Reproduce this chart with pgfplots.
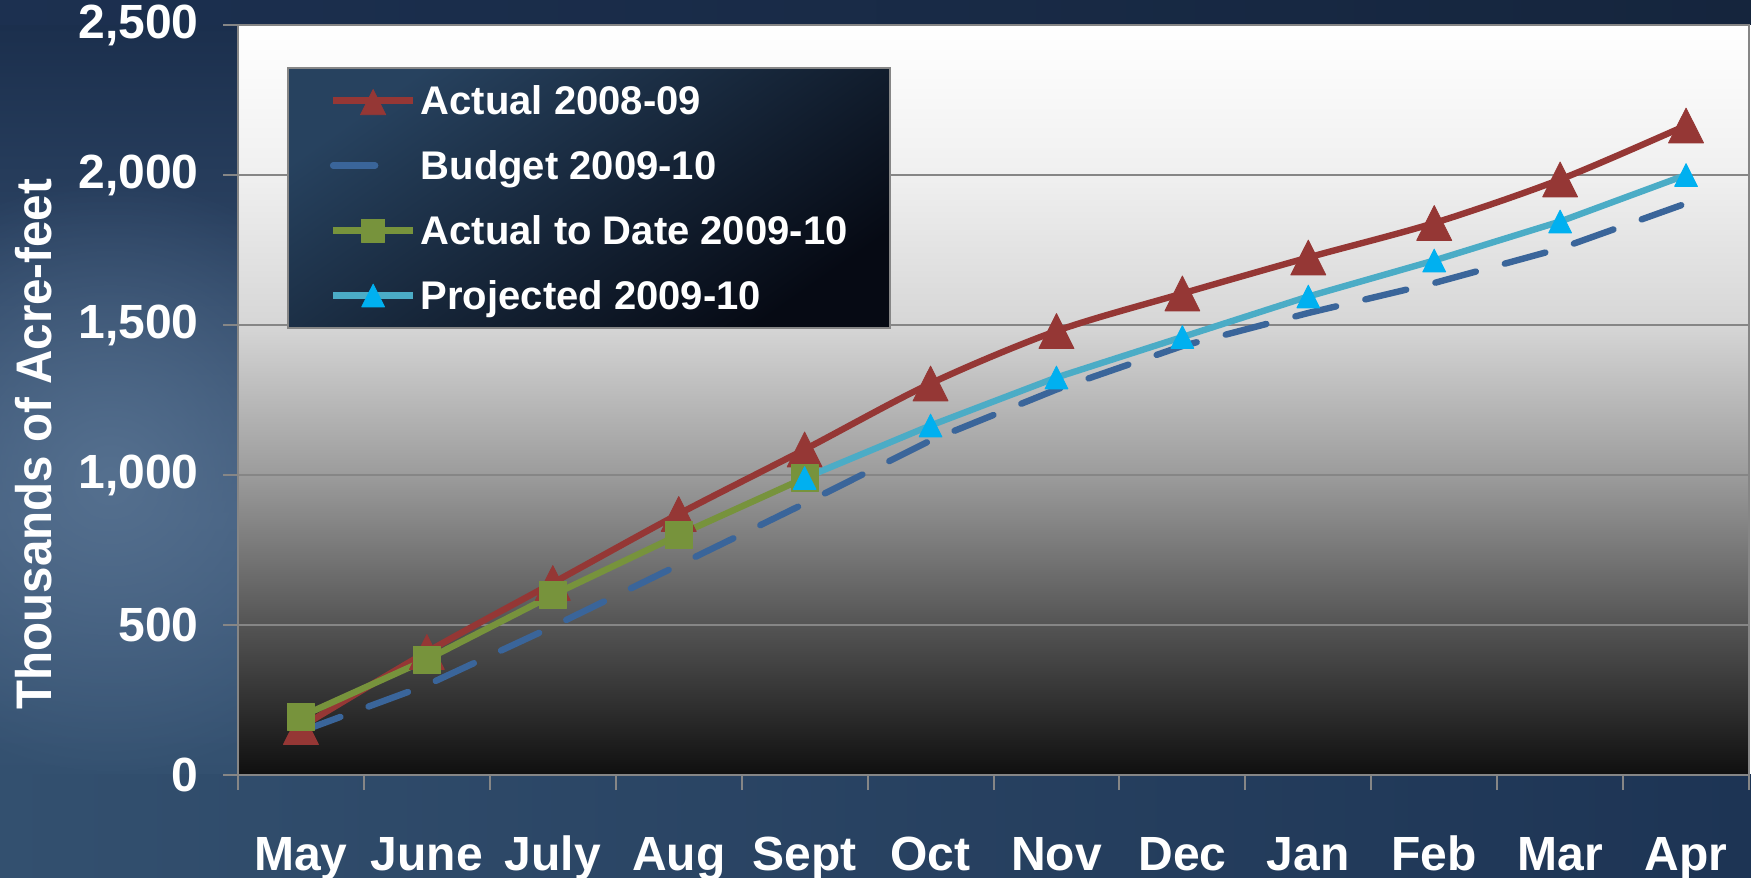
\documentclass[border=0pt]{standalone}
\usepackage{pgfplots}
\pgfplotsset{compat=1.18}
\usepackage{fontspec}
\setmainfont{Liberation Sans}
\newfontfamily\ylfont{Liberation Sans}[FakeStretch=0.95]
\usetikzlibrary{fadings}
\tikzfading[name=myfade, inner color=transparent!0, outer color=transparent!100]

\definecolor{bgtop}{HTML}{1B2F4D}
\definecolor{bgmid}{HTML}{3F5A7B}
\definecolor{bgbot}{HTML}{33506F}
\definecolor{bglight}{HTML}{55708F}
\definecolor{bgbL}{HTML}{33506F}
\definecolor{bgbR}{HTML}{1D3454}
\definecolor{bgtL}{HTML}{1C3050}
\definecolor{bgtR}{HTML}{15253D}
\definecolor{cred}{HTML}{953735}
\definecolor{cblue}{HTML}{3A659A}
\definecolor{cgreen}{HTML}{77933C}
\definecolor{ccyanl}{HTML}{4BACC6}
\definecolor{ccyanm}{HTML}{00B0F0}
\definecolor{legA}{HTML}{27425F}
\definecolor{legB}{HTML}{060A14}
\definecolor{gridc}{HTML}{868686}
\colorlet{pb0}{black!94}
\colorlet{pb1}{black!67}
\colorlet{pb2}{black!39}
\colorlet{pb3}{black!16}
\colorlet{pb4}{black!6}
\pgfdeclareverticalshading{plotbg}{100bp}{color(0bp)=(pb0); color(25bp)=(pb0); color(35bp)=(pb1); color(45bp)=(pb2); color(55bp)=(pb3); color(65bp)=(pb4); color(75bp)=(white); color(100bp)=(white)}

\pgfplotsset{
  legmark/.style={legend image code/.code={
    \path[draw=none, fill=none] (0pt,-16.25pt) rectangle (40pt,16.25pt);
    \draw[mark repeat=2, mark phase=2, ##1, every mark/.append style={scale=#1}] plot coordinates {(0pt,0pt) (20pt,0pt) (40pt,0pt)};
  }},
  legdash/.style={legend image code/.code={
    \path[draw=none, fill=none] (0pt,-16.25pt) rectangle (40pt,16.25pt);
    \draw[##1] (0pt,0pt) -- (23pt,0pt);
  }},
}

\begin{document}
\begin{tikzpicture}
\useasboundingbox (0,0) rectangle (875.5pt,439pt);
% background
\shade[top color=bgtop, bottom color=bgmid] (0,180pt) rectangle (119pt,426.5pt);
\shade[top color=bgmid, bottom color=bgbot] (0,51.5pt) rectangle (119pt,180pt);
\begin{scope}
\clip (0,51.5pt) rectangle (119pt,426.5pt);
\fill[bglight, path fading=myfade] (55pt,200pt) circle (150pt);
\end{scope}
\shade[left color=bgbL, right color=bgbR] (0,0) rectangle (875.5pt,51.5pt);
\shade[left color=bgtL, right color=bgtR] (0,426.5pt) rectangle (875.5pt,439pt);

\begin{axis}[
  at={(119pt,51.5pt)}, anchor=south west,
  scale only axis, width=755.5pt, height=375pt,
  xmin=-0.5, xmax=11.5, ymin=0, ymax=2500,
  clip=false,
  axis background/.style={shade, shading=plotbg},
  xtick={0,...,11},
  xticklabels={May,June,July,Aug,Sept,Oct,Nov,Dec,Jan,Feb,Mar,Apr},
  minor xtick={-0.5,0.5,...,11.5},
  ytick={0,500,1000,1500,2000,2500},
  tick pos=left, tick align=outside,
  major tick length=7.5pt, minor tick length=7.5pt,
  tick style={draw=gridc, line width=1pt},
  major x tick style={draw=none},
  axis line style={draw=gridc, line width=1pt},
  ymajorgrids, major grid style={draw=gridc, line width=1pt},
  /pgf/number format/1000 sep={,},
  /pgf/number format/assume math mode=true,
  yticklabel style={font=\bfseries\fontsize{24pt}{28pt}\selectfont, text=white, inner sep=0pt, xshift=-12pt},
  xticklabel style={font=\bfseries\fontsize{24pt}{28pt}\selectfont, text=white, anchor=base, inner sep=0pt, yshift=-40pt},
  legmark=1,
  legend style={at={(0.0324,0.944)}, anchor=north west,
    shade, top color=legA, bottom color=legB, shading angle=35,
    draw=gridc, line width=1pt,
    inner xsep=21pt, inner ysep=0pt, column sep=2.2pt, row sep=0pt,
    font=\bfseries\fontsize{20pt}{24pt}\selectfont, text=white,
    nodes={inner sep=0pt, anchor=base west, yshift=-7.2pt}},
]
\addplot[cred, line width=3.2pt, smooth, line join=round, mark=triangle*, mark size=10.1pt,
  mark options={solid, line width=0.4pt, fill=cred, yshift=-2.9pt, yscale=1.15}, legmark=0.72]
  coordinates {(0,160)(1,410)(2,640)(3,870)(4,1085)(5,1305)(6,1480)(7,1605)(8,1725)(9,1840)(10,1985)(11,2165)};
\addlegendentry{Actual 2008-09}
\addplot[cblue, line width=3.2pt, dash pattern=on 21pt off 15pt, line cap=round, legdash]
  coordinates {(0,145)(1,300)(2,495)(3,700)(4,905)(5,1115)(6,1285)(7,1430)(8,1540)(9,1640)(10,1755)(11,1905)};
\addlegendentry{Budget 2009-10}
\addplot[cgreen, line width=3.2pt, line join=round, mark=square*, mark size=6.75pt,
  mark options={solid, line width=0.4pt, fill=cgreen}, legmark=0.85]
  coordinates {(0,195)(1,385)(2,600)(3,800)(4,990)};
\addlegendentry{Actual to Date 2009-10}
\addplot[ccyanl, line width=3.2pt, line join=round, mark=triangle*, mark size=6.6pt,
  mark options={solid, line width=0.4pt, draw=ccyanm, fill=ccyanm, yshift=-1.9pt, yscale=1.15}, legmark=1]
  coordinates {(4,990)(5,1165)(6,1325)(7,1460)(8,1595)(9,1715)(10,1845)(11,2000)};
\addlegendentry{Projected 2009-10}
\end{axis}
\node[rotate=90, anchor=center, text=white, font=\ylfont\bfseries\fontsize{25pt}{30pt}\selectfont] at (17pt,217pt) {Thousands of Acre-feet};
\end{tikzpicture}
\end{document}
